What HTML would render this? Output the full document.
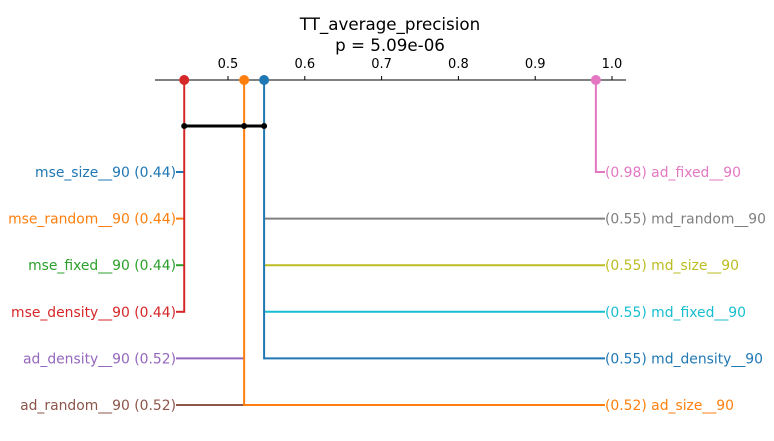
<!DOCTYPE html>
<html><head><meta charset="utf-8"><style>
body{margin:0;background:#fff;}
svg{font-family:"DejaVu Sans","Liberation Sans",sans-serif;}
</style></head><body>
<svg id="c" width="774" height="436"></svg>
<script>
const leftNames=["mse_size__90","mse_random__90","mse_fixed__90","mse_density__90","ad_density__90","ad_random__90"];
const leftVals=[0.443,0.443,0.443,0.443,0.521,0.521];
const leftShown=["0.44","0.44","0.44","0.44","0.52","0.52"];
const leftColors=["#1f77b4","#ff7f0e","#2ca02c","#d62728","#9467bd","#8c564b"];
const rightNames=["ad_fixed__90","md_random__90","md_size__90","md_fixed__90","md_density__90","ad_size__90"];
const rightVals=[0.979,0.547,0.547,0.547,0.547,0.521];
const rightShown=["0.98","0.55","0.55","0.55","0.55","0.52"];
const rightColors=["#e377c2","#7f7f7f","#bcbd22","#17becf","#1f77b4","#ff7f0e"];
const groupVals=[0.443,0.521,0.547,0.979];
const groupColors=["#d62728","#ff7f0e","#1f77b4","#e377c2"];
const cliqueVals=[0.443,0.521,0.547];
const ticks=[0.5,0.6,0.7,0.8,0.9,1.0];
const tickLabels=["0.5","0.6","0.7","0.8","0.9","1.0"];

const svg=document.getElementById('c');
const NS="http://www.w3.org/2000/svg";
const X=v=>228+(v-0.5)*768;
const rowY=i=>172+i*46.6;
const axisY=80;
function mk(t,a,p){const e=document.createElementNS(NS,t);for(const k in a)e.setAttribute(k,a[k]);(p||svg).appendChild(e);return e;}

let t=mk('text',{x:390,y:30,'text-anchor':'middle','font-size':16.7,fill:'#000'});t.textContent="TT_average_precision";


t=mk('text',{x:390,y:51,'text-anchor':'middle','font-size':16.7,fill:'#000'});t.textContent="p = 5.09e-06";



let ax=mk('line',{x1:155,x2:626,y1:axisY,y2:axisY,stroke:'#000','stroke-width':1});


ticks.forEach((v,i)=>{
  const l=mk('line',{x1:X(v),x2:X(v),y1:axisY,y2:axisY-4,stroke:'#000'});
  
  
  const tx=mk('text',{x:X(v),y:axisY-12,'text-anchor':'middle','font-size':13,fill:'#000'});
  tx.textContent=tickLabels[i];
  
  
});

leftNames.forEach((n,i)=>{
  const y=rowY(i);
  const l=mk('polyline',{points:`176,${y} ${X(leftVals[i])},${y}`,stroke:leftColors[i],'stroke-width':2,fill:'none'});
  
  
  const tx=mk('text',{x:176,y:y+5,'text-anchor':'end','font-size':13.9,fill:leftColors[i]});
  tx.textContent=`${n} (${leftShown[i]})`;
  
  
});
rightNames.forEach((n,i)=>{
  const y=rowY(i);
  const l=mk('polyline',{points:`${X(rightVals[i])},${y} 605,${y}`,stroke:rightColors[i],'stroke-width':2,fill:'none'});
  
  
  const tx=mk('text',{x:605,y:y+5,'text-anchor':'start','font-size':13.9,fill:rightColors[i]});
  tx.textContent=`(${rightShown[i]}) ${n}`;
  
  
});
groupVals.forEach((v,g)=>{
  let maxRow=0;
  leftVals.forEach((lv,i)=>{if(Math.abs(lv-v)<1e-9)maxRow=Math.max(maxRow,i);});
  rightVals.forEach((rv,i)=>{if(Math.abs(rv-v)<1e-9)maxRow=Math.max(maxRow,i);});
  const l=mk('line',{x1:X(v),x2:X(v),y1:axisY,y2:rowY(maxRow)+1,stroke:groupColors[g],'stroke-width':2});
  
  
});
const cb=mk('line',{x1:X(cliqueVals[0]),x2:X(cliqueVals[cliqueVals.length-1]),y1:126,y2:126,stroke:'#000','stroke-width':3});


cliqueVals.forEach(v=>{
  const c=mk('circle',{cx:X(v),cy:126,r:3,fill:'#000'});
  
  
});
groupVals.forEach((v,g)=>{
  const c=mk('circle',{cx:X(v),cy:axisY,r:5,fill:groupColors[g]});
  
  
});
</script>
</body></html>
